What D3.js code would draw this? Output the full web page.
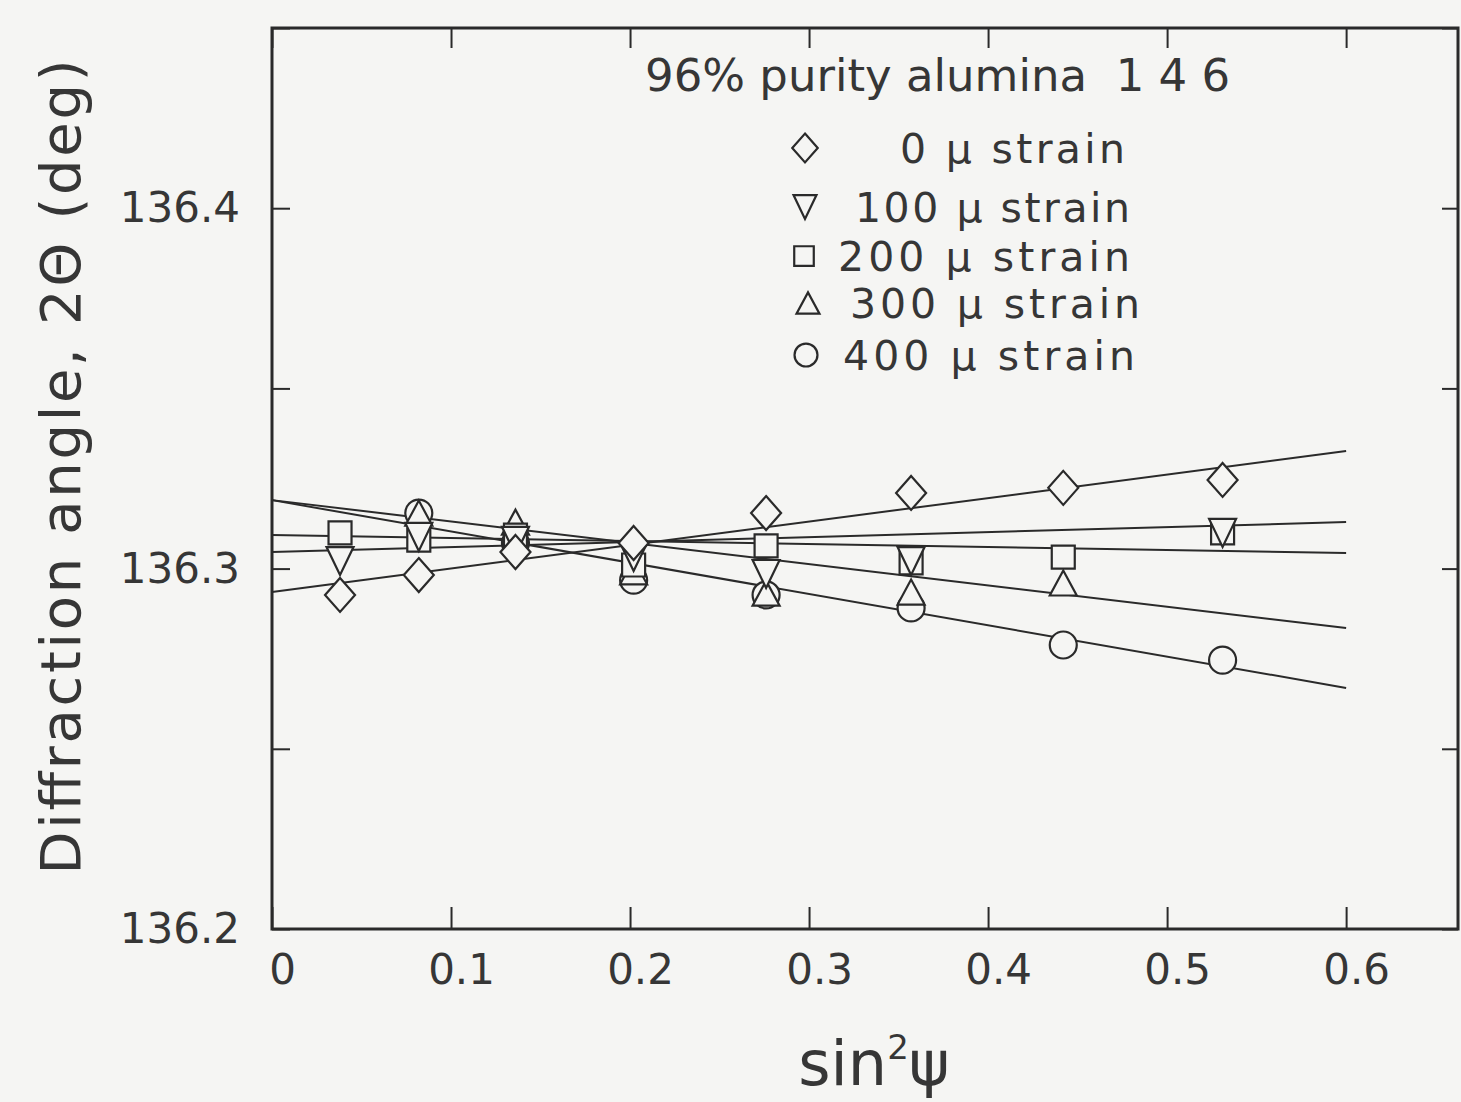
<!DOCTYPE html>
<html lang="en">
<head>
    <meta charset="UTF-8">
    <title>96% purity alumina 1 4 6</title>
    <script src="https://d3js.org/d3.v7.min.js"></script>
    <style>
        body {
            margin: 0;
            background: #f5f5f3;
            font-family: 'DejaVu Sans', sans-serif;
        }
        svg text {
            fill: #363636;
        }
        .frame {
            fill: none;
            stroke: #2a2a2a;
            stroke-width: 3;
        }
        .axis line {
            stroke: #2a2a2a;
            stroke-width: 2;
        }
        .fit {
            stroke: #2a2a2a;
            stroke-width: 2;
            fill: none;
        }
        .mark {
            fill: #f5f5f3;
            stroke: #2a2a2a;
            stroke-width: 2.2;
        }
    </style>
</head>
<body>
    <svg id="chart" width="1461" height="1102"></svg>

    <script>
        // sin^2(psi) of the measuring points
        const sin2psi = [0.038, 0.082, 0.136, 0.202, 0.276, 0.357, 0.442, 0.531];

        // diffraction angle 2theta (deg) per applied strain, null = point not shown
        const strain0 = [136.2927, 136.2982, 136.3046, 136.3071, 136.3154, 136.3210, 136.3224, 136.3246];
        const strain100 = [136.3021, 136.3088, 136.3077, 136.3032, 136.2985, 136.3021, null, 136.3099];
        const strain200 = [136.3099, 136.3079, 136.3093, 136.3010, 136.3063, 136.3016, 136.3032, 136.3099];
        const strain300 = [null, 136.3154, 136.3129, 136.2991, 136.2932, 136.2935, 136.2960, null];
        const strain400 = [null, 136.3154, 136.3071, 136.2968, 136.2927, 136.2891, 136.2788, 136.2746];

        // fitted lines: value at sin2psi = 0 and at sin2psi = 0.6
        const fitX = [0, 0.6];
        const fitStart = [136.2935, 136.3046, 136.3093, 136.3190, 136.3190];
        const fitEnd = [136.3326, 136.3129, 136.3043, 136.2835, 136.2669];

        const strainNames = ["0 μ strain", "100 μ strain", "200 μ strain", "300 μ strain", "400 μ strain"];
        const shapes = ["diamond", "triDown", "square", "triUp", "circle"];

        const xTicks = [0, 0.1, 0.2, 0.3, 0.4, 0.5, 0.6];
        const yTicks = [136.2, 136.25, 136.3, 136.35, 136.4, 136.45];
        const yLabels = [136.2, 136.3, 136.4];

        const series = [strain0, strain100, strain200, strain300, strain400];

        const svg = d3.select("#chart");
        const plotLeft = 272, plotRight = 1458, plotTop = 28, plotBottom = 929;

        const x = d3.scaleLinear().domain([0, 0.6625]).range([plotLeft, plotRight]);
        const y = d3.scaleLinear().domain([136.2, 136.45]).range([plotBottom, plotTop]);

        // marker outlines, centred on 0,0
        function shapePath(s, k) {
            const p = d3.path();
            if (s === "diamond") {
                p.moveTo(0, -17 * k); p.lineTo(15 * k, 0); p.lineTo(0, 17 * k); p.lineTo(-15 * k, 0); p.closePath();
            } else if (s === "square") {
                p.rect(-11.5 * k, -11.5 * k, 23 * k, 23 * k);
            } else if (s === "circle") {
                p.moveTo(13.5 * k, 0);
                p.arc(0, 0, 13.5 * k, 0, 2 * Math.PI);
            } else if (s === "triDown") {
                p.moveTo(-13.5 * k, -14 * k); p.lineTo(13.5 * k, -14 * k); p.lineTo(0, 14 * k); p.closePath();
            } else if (s === "triUp") {
                p.moveTo(-13.5 * k, 12.5 * k); p.lineTo(13.5 * k, 12.5 * k); p.lineTo(0, -12.5 * k); p.closePath();
            }
            return p.toString();
        }

        // axes: ticks point inwards on all four sides
        svg.append("g").attr("class", "axis")
            .attr("transform", `translate(0,${plotBottom})`)
            .call(d3.axisBottom(x).tickValues(xTicks).tickSizeInner(-22).tickSizeOuter(0).tickPadding(25)
                .tickFormat(d => d === 0 ? "0" : d3.format(".1f")(d)))
            .call(g => g.select(".domain").remove())
            .call(g => g.selectAll("text").attr("dx", 10).style("font-size", "42px")
                .style("font-family", "'DejaVu Sans', sans-serif"));

        svg.append("g").attr("class", "axis")
            .attr("transform", `translate(0,${plotTop})`)
            .call(d3.axisTop(x).tickValues(xTicks).tickSizeInner(-20).tickSizeOuter(0).tickFormat(""))
            .call(g => g.select(".domain").remove());

        svg.append("g").attr("class", "axis")
            .attr("transform", `translate(${plotLeft},0)`)
            .call(d3.axisLeft(y).tickValues(yTicks).tickSizeInner(-18).tickSizeOuter(0).tickPadding(32)
                .tickFormat(d => yLabels.some(v => Math.abs(v - d) < 1e-6) ? d3.format(".1f")(d) : ""))
            .call(g => g.select(".domain").remove())
            .call(g => g.selectAll("text").style("font-size", "42px")
                .style("font-family", "'DejaVu Sans', sans-serif"));

        svg.append("g").attr("class", "axis")
            .attr("transform", `translate(${plotRight},0)`)
            .call(d3.axisRight(y).tickValues(yTicks).tickSizeInner(-16).tickSizeOuter(0).tickFormat(""))
            .call(g => g.select(".domain").remove());

        svg.append("rect").attr("class", "frame")
            .attr("x", plotLeft).attr("y", plotTop)
            .attr("width", plotRight - plotLeft).attr("height", plotBottom - plotTop);

        // fitted lines
        svg.selectAll(".fit")
            .data(fitStart)
            .enter()
            .append("line")
            .attr("class", "fit")
            .attr("x1", x(fitX[0]))
            .attr("y1", d => y(d))
            .attr("x2", x(fitX[1]))
            .attr("y2", (d, i) => y(fitEnd[i]));

        // markers, highest strain first so the lower ones lie on top
        d3.range(series.length - 1, -1, -1).forEach(si => {
            svg.append("g")
                .selectAll("path")
                .data(series[si].map((v, i) => ({ x: sin2psi[i], v: v })).filter(d => d.v !== null))
                .enter()
                .append("path")
                .attr("class", "mark")
                .attr("transform", d => `translate(${x(d.x)},${y(d.v)})`)
                .attr("d", shapePath(shapes[si], 1));
        });

        // title and legend
        svg.append("text")
            .attr("x", 645).attr("y", 91)
            .style("font-size", "45px")
            .attr("xml:space", "preserve")
            .text("96% purity alumina  1 4 6");

        const legendY = [148, 207, 256, 303, 355];
        const legendMarkX = [805, 805, 804, 808, 806];
        const legendTextX = [900, 855, 838, 850, 843];
        const legendTextW = [225, 275, 292, 290, 292];
        const legend = svg.append("g");
        strainNames.forEach((name, i) => {
            legend.append("path")
                .attr("class", "mark")
                .attr("transform", `translate(${legendMarkX[i]},${legendY[i]})`)
                .attr("d", shapePath(shapes[i], 0.85));
            legend.append("text")
                .attr("x", legendTextX[i]).attr("y", legendY[i] + 15)
                .attr("textLength", legendTextW[i])
                .attr("lengthAdjust", "spacing")
                .style("font-size", "41px")
                .text(name);
        });

        // axis titles
        svg.append("text")
            .attr("transform", "translate(80,467) rotate(-90)")
            .attr("text-anchor", "middle")
            .attr("textLength", 815)
            .attr("lengthAdjust", "spacing")
            .style("font-size", "56px")
            .text("Diffraction angle, 2Θ (deg)");

        const xt = svg.append("text")
            .attr("x", 874).attr("y", 1085)
            .attr("text-anchor", "middle")
            .style("font-size", "62px");
        xt.append("tspan").text("sin");
        xt.append("tspan").attr("dy", -26).style("font-size", "34px").text("2");
        xt.append("tspan").attr("dy", 26).text("ψ");
    </script>
</body>
</html>
